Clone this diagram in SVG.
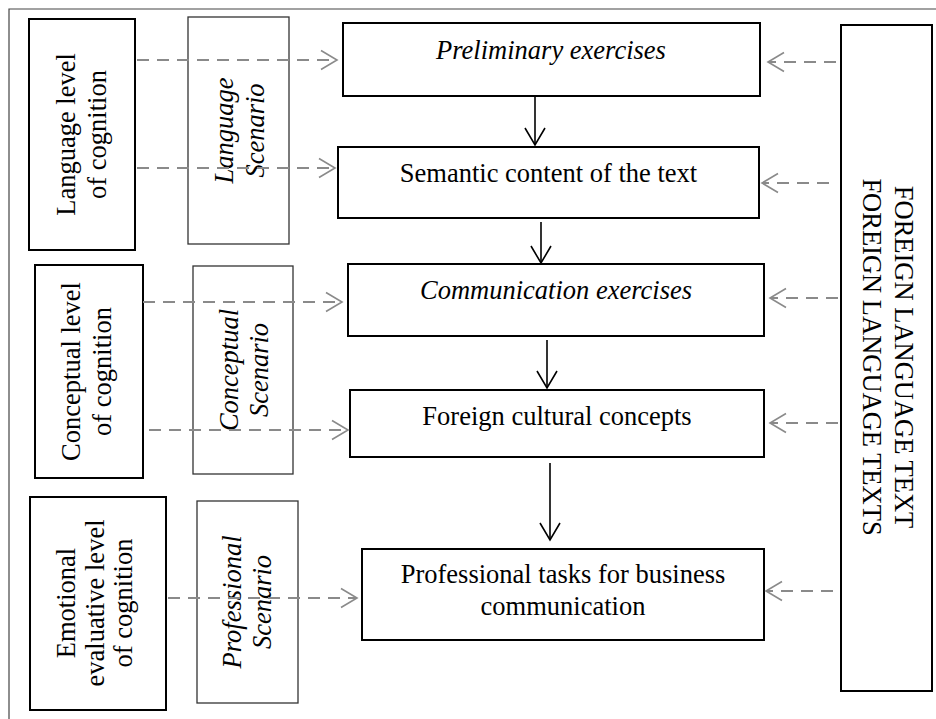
<svg xmlns="http://www.w3.org/2000/svg" width="936" height="719" viewBox="0 0 936 719">
<style>
text{font-family:"Liberation Serif","Times New Roman",serif;font-size:26.5px;fill:#000;text-anchor:middle}
.it{font-style:italic}
.box{fill:#fff;stroke:#000;stroke-width:2}
.scn{fill:#fff;stroke:#333;stroke-width:1.3}
.solid{fill:none;stroke:#000;stroke-width:1.6}
.dash{fill:none;stroke:#8a8a8a;stroke-width:2;stroke-dasharray:12 8}
</style>
<defs>
<marker id="ah" markerUnits="userSpaceOnUse" markerWidth="40" markerHeight="40" viewBox="-20 -20 40 40" refX="0" refY="0" orient="auto" overflow="visible">
<path d="M-17,-10 L0,0 L-17,10" fill="none" stroke="#000" stroke-width="1.6"/>
</marker>
<marker id="ag" markerUnits="userSpaceOnUse" markerWidth="40" markerHeight="40" viewBox="-20 -20 40 40" refX="0" refY="0" orient="auto" overflow="visible">
<path d="M-16,-9.5 L0,0 L-16,9.5" fill="none" stroke="#8a8a8a" stroke-width="1.6"/>
</marker>
</defs>
<rect width="936" height="719" fill="#fff"/>
<path d="M9,730 L9,9 L940,9" fill="none" stroke="#444" stroke-width="1.2"/>

<g id="lang-level">
<rect class="box" x="29" y="19" width="106" height="231"/>
<g transform="translate(0,134.5) rotate(-90)"><text x="0" y="75">Language level</text><text x="0" y="106">of cognition</text></g>
</g>
<g id="lang-scenario">
<rect class="scn" x="188" y="17" width="101" height="227"/>
<g transform="translate(0,130.5) rotate(-90)"><text class="it" x="0" y="233">Language</text><text class="it" x="0" y="264">Scenario</text></g>
</g>
<g id="concept-level">
<rect class="box" x="35" y="265" width="108" height="213"/>
<g transform="translate(0,371.5) rotate(-90)"><text x="0" y="80">Conceptual level</text><text x="0" y="111">of cognition</text></g>
</g>
<g id="concept-scenario">
<rect class="scn" x="193" y="266" width="100" height="208"/>
<g transform="translate(0,370) rotate(-90)"><text class="it" x="0" y="238">Conceptual</text><text class="it" x="0" y="268">Scenario</text></g>
</g>
<g id="emo-level">
<rect class="box" x="30" y="497" width="136" height="213"/>
<g transform="translate(0,603) rotate(-90)"><text x="0" y="75">Emotional</text><text x="0" y="104">evaluative level</text><text x="0" y="132">of cognition</text></g>
</g>
<g id="prof-scenario">
<rect class="scn" x="197" y="501" width="101" height="202"/>
<g transform="translate(0,602) rotate(-90)"><text class="it" x="0" y="241">Professional</text><text class="it" x="0" y="271">Scenario</text></g>
</g>

<g id="preliminary">
<rect class="box" x="343" y="23" width="417" height="73"/>
<text class="it" x="551" y="59">Preliminary exercises</text>
</g>
<g id="semantic">
<rect class="box" x="338" y="147" width="421" height="71"/>
<text x="548.5" y="182">Semantic content of the text</text>
</g>
<g id="communication">
<rect class="box" x="348" y="264" width="416" height="72"/>
<text class="it" x="556" y="299">Communication exercises</text>
</g>
<g id="cultural">
<rect class="box" x="350" y="390" width="414" height="67"/>
<text x="557" y="425">Foreign cultural concepts</text>
</g>
<g id="professional">
<rect class="box" x="362" y="549" width="402" height="91"/>
<text x="563" y="583">Professional tasks for business</text>
<text x="563" y="615">communication</text>
</g>

<g id="foreign-texts">
<rect class="box" x="841" y="25" width="91" height="666"/>
<g transform="translate(0,357) rotate(90)"><text x="0" y="-895">FOREIGN LANGUAGE TEXT</text><text x="0" y="-863">FOREIGN LANGUAGE TEXTS</text></g>
</g>

<g id="connectors">
<line class="solid" x1="535" y1="96" x2="535" y2="145" marker-end="url(#ah)"/>
<line class="solid" x1="541" y1="222" x2="541" y2="263" marker-end="url(#ah)"/>
<line class="solid" x1="547" y1="340" x2="547" y2="388" marker-end="url(#ah)"/>
<line class="solid" x1="550" y1="463" x2="550" y2="540" marker-end="url(#ah)"/>
<line class="dash" x1="137" y1="60" x2="337" y2="60" marker-end="url(#ag)"/>
<line class="dash" x1="137" y1="168" x2="335" y2="168" marker-end="url(#ag)"/>
<line class="dash" x1="143" y1="302" x2="342" y2="302" marker-end="url(#ag)"/>
<line class="dash" x1="149" y1="430" x2="348" y2="430" marker-end="url(#ag)"/>
<line class="dash" x1="168" y1="598" x2="357" y2="598" marker-end="url(#ag)"/>
<line class="dash" x1="836" y1="62" x2="768" y2="62" marker-end="url(#ag)"/>
<line class="dash" x1="829" y1="183" x2="762" y2="183" marker-end="url(#ag)"/>
<line class="dash" x1="838" y1="298" x2="770" y2="298" marker-end="url(#ag)"/>
<line class="dash" x1="838" y1="423" x2="770" y2="423" marker-end="url(#ag)"/>
<line class="dash" x1="833" y1="591" x2="766" y2="591" marker-end="url(#ag)"/>
</g>
</svg>
